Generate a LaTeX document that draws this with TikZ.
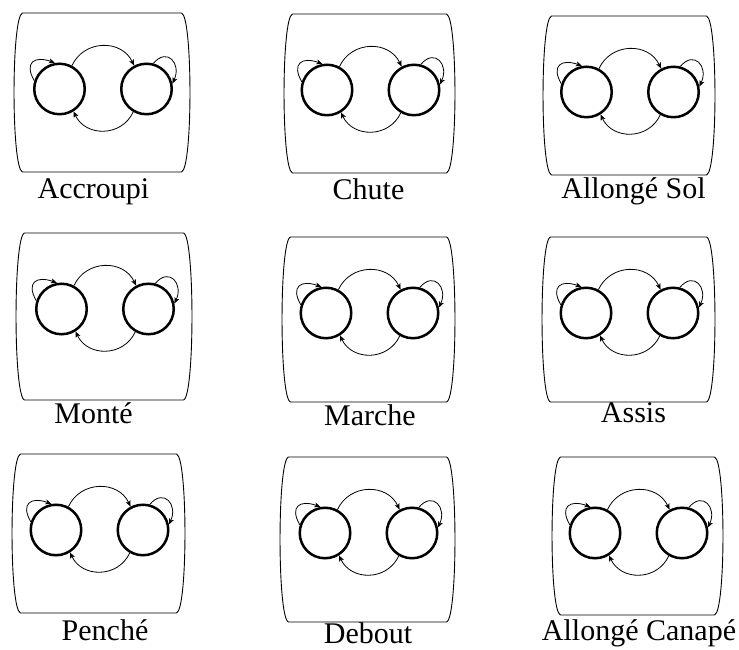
\documentclass[tikz,border=0pt]{standalone}
\usepackage{fontspec}
\setmainfont{Liberation Serif}
\usetikzlibrary{arrows.meta}

\tikzset{
    state/.style={draw, circle, line width=2.5pt, minimum size=50.5pt, inner sep=0pt},
    trans/.style={-{Stealth[length=6pt,width=5pt,inset=1.5pt]}, line width=0.8pt},
    panel/.style={line width=0.9pt},
    caption/.style={font=\fontsize{30}{32}\selectfont, anchor=base, inner sep=0pt}
}

\begin{document}
\begin{tikzpicture}[x=1pt,y=1pt]
    \useasboundingbox (0,0) rectangle (739,650);
    % left / right / top / bottom of each frame, then caption x and baseline (pixels from the top)
    \foreach \l/\r/\t/\b/\lx/\ly/\n/\txt in {
        14/190/13/172/93.5/199/a/Accroupi,
        284/455/14/173/368.5/200/b/Chute,
        543/715/16/175/633.5/199/c/Allongé Sol,
        16/192/233/400/93.5/424/d/Monté,
        282/455/237/402/370/426/e/Marche,
        542/715/237/402/633.5/423/f/Assis,
        12/185/454/613/105/641/g/Penché,
        280/455/457/622/368/644/h/Debout,
        552/723/457/615/639/641/i/Allongé Canapé}
    {
        \pgfmathsetmacro\cx{(\l+\r)/2+1}
        \pgfmathsetmacro\cy{650-\t-76}
        \pgfmathsetmacro\T{650-\t}
        \pgfmathsetmacro\B{650-\b}
        % frame with bulging sides
        \draw[panel] ({\l+8.5},\T) -- ({\r-8.5},\T)
            .. controls ({\r+2.8},{\T-3}) and ({\r+2.8},{\B+3}) .. ({\r-8.5},\B)
            -- ({\l+8.5},\B)
            .. controls ({\l-2.8},{\B+3}) and ({\l-2.8},{\T-3}) .. cycle;
        \node[state] (L\n) at ({\cx-43.5},\cy) {};
        \node[state] (R\n) at ({\cx+43.5},\cy) {};
        \draw[trans] (L\n.62) to[out=65,in=115,looseness=1.2] (R\n.118);
        \draw[trans] (R\n.-120) to[out=-115,in=-65,looseness=1.2] (L\n.-58);
        \draw[trans] (L\n.162) to[out=120,in=160,looseness=2] (L\n.100);
        \draw[trans] (R\n.75) to[out=50,in=65,looseness=2] (R\n.12);
        \node[caption] (t\n) at (\lx,{650-\ly}) {\txt};
    }
\end{tikzpicture}
\end{document}
